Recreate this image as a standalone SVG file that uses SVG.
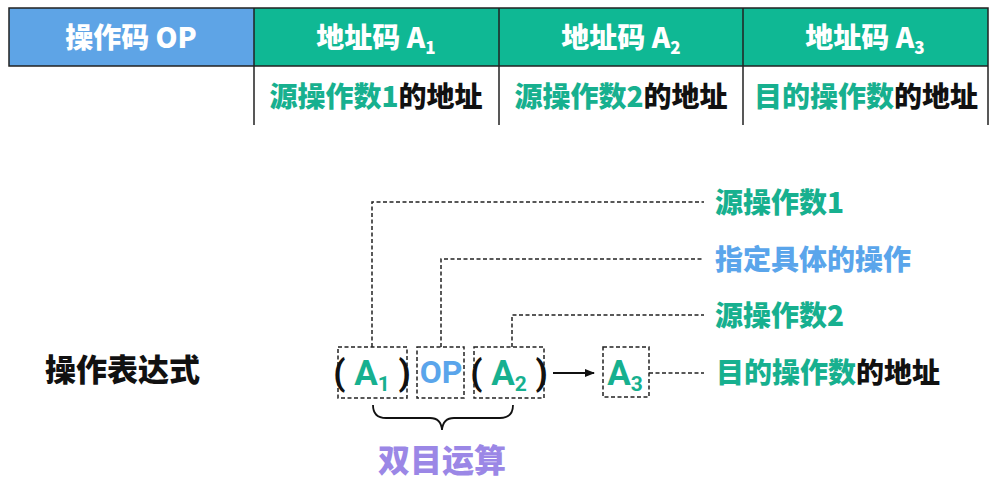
<svg xmlns="http://www.w3.org/2000/svg" width="997" height="483" viewBox="0 0 997 483">
<defs>
<style>
text{font-family:"Noto Sans CJK SC","Noto Sans",sans-serif;font-weight:900}
.hdr{fill:#fff;font-size:28px;text-anchor:middle}
.cell{font-size:28px;text-anchor:middle}
.g{fill:#17b08f}
.b{fill:#5aa5eb}
.k{fill:#111}
.dash{fill:none;stroke:#222;stroke-width:1.5;stroke-dasharray:4 2.5}
.lbl{font-size:28px}
.box{font-size:35px;text-anchor:middle}
.lat{font-family:Roboto,"Noto Sans",sans-serif;font-weight:bold}
.grid{stroke:#222;stroke-width:1.5;fill:none}
</style>
<marker id="ah" markerWidth="10" markerHeight="8" refX="9" refY="4" orient="auto" markerUnits="userSpaceOnUse"><path d="M0,0 L10,4 L0,8 Z" fill="#111"/></marker>
</defs>
<rect width="997" height="483" fill="#fff"/>
<g id="table">
<rect x="9" y="8" width="245" height="58" fill="#5ea4e6"/>
<rect x="254" y="8" width="734" height="58" fill="#0fb894"/>
<path class="grid" d="M9,8 H988 V66 H9 Z M254,8 V125 M499,8 V125 M743,8 V125 M988,66 V125"/>
<text class="hdr" x="131" y="48">操作码 OP</text>
<text class="hdr" x="376" y="48">地址码 A<tspan font-size="17" dy="6">1</tspan></text>
<text class="hdr" x="621" y="48">地址码 A<tspan font-size="17" dy="6">2</tspan></text>
<text class="hdr" x="865" y="48">地址码 A<tspan font-size="17" dy="6">3</tspan></text>
<text class="cell" x="376" y="107"><tspan class="g">源操作数1</tspan><tspan class="k">的地址</tspan></text>
<text class="cell" x="621" y="107"><tspan class="g">源操作数2</tspan><tspan class="k">的地址</tspan></text>
<text class="cell" x="866" y="107"><tspan class="g">目的操作数</tspan><tspan class="k">的地址</tspan></text>
</g>
<g id="expr-label"><text x="45" y="381" font-size="31" class="k">操作表达式</text></g>
<g id="nodeA1">
<rect class="dash" x="338" y="347" width="69" height="51"/>
<text class="box lat" x="372" y="385"><tspan class="k">( </tspan><tspan class="g">A<tspan font-size="21" dy="6">1</tspan></tspan><tspan class="k" dy="-6"> )</tspan></text>
</g>
<g id="nodeOP">
<rect class="dash" x="417" y="347" width="47" height="51"/>
<text class="box lat b" x="441" y="383" style="font-size:32px">OP</text>
</g>
<g id="nodeA2">
<rect class="dash" x="474" y="347" width="70" height="51"/>
<text class="box lat" x="509" y="385"><tspan class="k">( </tspan><tspan class="g">A<tspan font-size="21" dy="6">2</tspan></tspan><tspan class="k" dy="-6"> )</tspan></text>
</g>
<g id="nodeA3">
<rect class="dash" x="603" y="347" width="46" height="50"/>
<text class="box lat g" x="625" y="385">A<tspan font-size="21" dy="6">3</tspan></text>
</g>
<g id="labels" class="lbl">
<text x="715" y="213" class="g">源操作数1</text>
<text x="715" y="270" class="b">指定具体的操作</text>
<text x="715" y="326" class="g">源操作数2</text>
<text x="716" y="383"><tspan class="g">目的操作数</tspan><tspan class="k">的地址</tspan></text>
</g>
<g id="connectors">
<path class="dash" d="M372,347 V202 H704"/>
<path class="dash" d="M441,347 V259 H704"/>
<path class="dash" d="M512,347 V315 H704"/>
<path class="dash" d="M649,373 H704"/>
<path d="M553,373 H594" stroke="#111" stroke-width="1.8" marker-end="url(#ah)"/>
<path d="M373,405 Q373,418 386,418 H430 Q441,418 442,430 Q443,418 454,418 H500 Q513,418 513,405" fill="none" stroke="#111" stroke-width="1.8"/>
</g>
<g id="brace-label"><text x="442" y="472" font-size="32" text-anchor="middle" fill="#9b87e6">双目运算</text></g>
</svg>
